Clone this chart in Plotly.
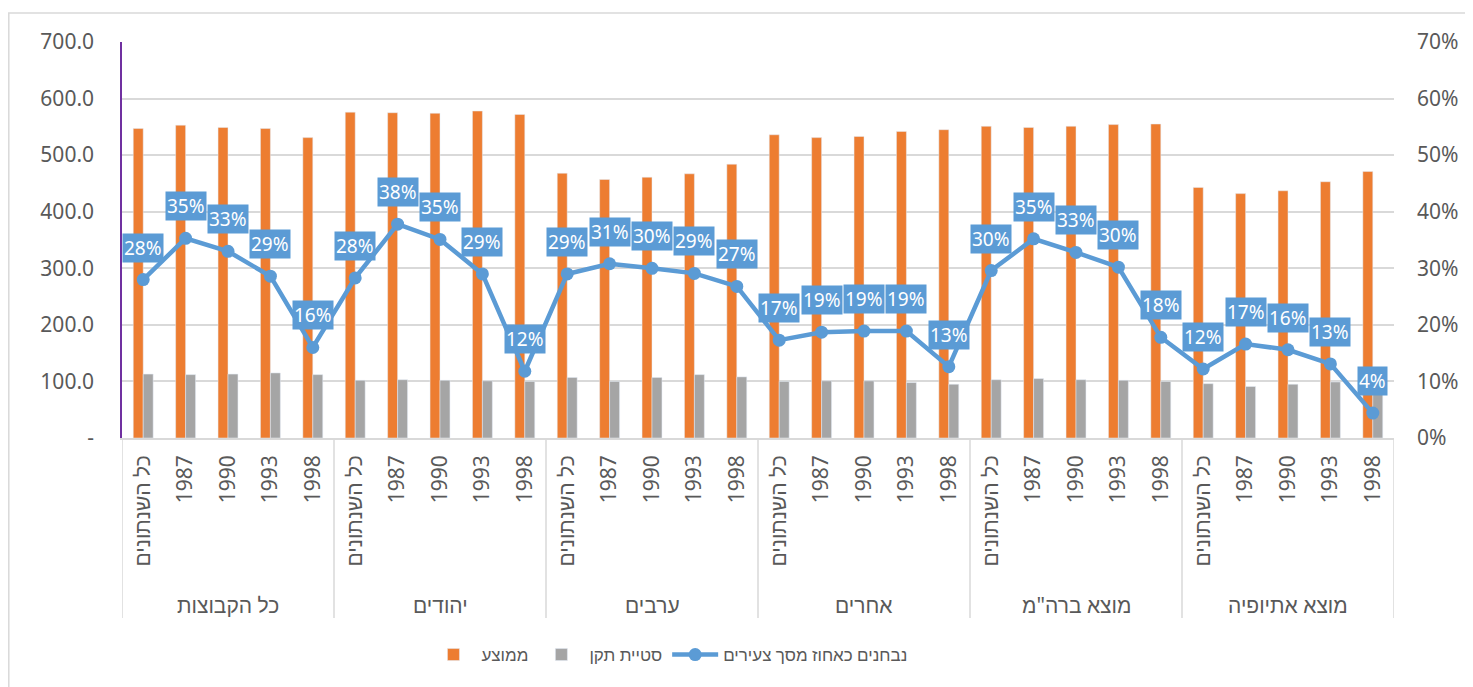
import plotly.graph_objects as go

# categories
groups = ["כל הקבוצות", "יהודים", "ערבים", "אחרים", 'מוצא ברה"מ', "מוצא אתיופיה"]
years = ["כל השנתונים", "1987", "1990", "1993", "1998"]

# series values (one per group x year)
mean_score = [547, 553, 549, 547, 531,
              576, 575, 574, 578, 572,
              468, 457, 461, 467, 484,
              536, 531, 533, 542, 545,
              551, 549, 551, 554, 555,
              443, 432, 437, 453, 471]
std_dev = [113, 112, 113, 115, 112,
           102, 103, 102, 101, 100,
           107, 100, 107, 112, 108,
           100, 101, 101, 98, 95,
           103, 105, 103, 102, 100,
           96, 91, 95, 99, 88]
pct_tested = [0.280, 0.353, 0.330, 0.286, 0.160,
              0.283, 0.378, 0.351, 0.290, 0.118,
              0.290, 0.308, 0.300, 0.291, 0.268,
              0.173, 0.187, 0.189, 0.189, 0.126,
              0.296, 0.352, 0.328, 0.302, 0.178,
              0.122, 0.166, 0.156, 0.131, 0.044]

left_ticks = [0, 100, 200, 300, 400, 500, 600, 700]
left_ticktext = ["-"] + [f"{v:.1f}" for v in left_ticks[1:]]

x_inner = [y for _ in groups for y in years]
x_pos = list(range(len(x_inner)))
n_years = len(years)

TEXT = "#595959"
GRID = "#D9D9D9"
FONT = "Noto Sans, Liberation Sans, DejaVu Sans, sans-serif"

fig = go.Figure()
fig.add_trace(go.Bar(x=x_pos, y=mean_score, name="ממוצע", marker_color="#ED7D31"))
fig.add_trace(go.Bar(x=x_pos, y=std_dev, name="סטיית תקן", marker_color="#A5A5A5"))
fig.add_trace(go.Scatter(x=x_pos, y=pct_tested, name="נבחנים כאחוז מסך צעירים", yaxis="y2",
                         mode="lines+markers", line=dict(color="#5B9BD5", width=4.5),
                         marker=dict(size=13, color="#5B9BD5")))

# boxed data labels for the line
for i, p in zip(x_pos, pct_tested):
    fig.add_annotation(x=i, y=p, xref="x", yref="y2", text=f"{round(p * 100)}%",
                       showarrow=False, yshift=32, bgcolor="#5B9BD5",
                       font=dict(color="white", size=19, family=FONT), borderpad=1)

# outer category level: group names and divider lines
for gi, g in enumerate(groups):
    fig.add_annotation(x=gi * n_years + (n_years - 1) / 2, y=-0.422, xref="x", yref="paper",
                       text=g, showarrow=False, yanchor="middle",
                       font=dict(size=21, color=TEXT, family=FONT))
for gi in range(len(groups) + 1):
    fig.add_shape(type="line", xref="x", yref="paper", x0=gi * n_years - 0.5,
                  x1=gi * n_years - 0.5, y0=0, y1=-0.4545, line=dict(color=GRID, width=1.5))

# chart area frame
fig.add_shape(type="rect", xref="paper", yref="paper", x0=-0.089, x1=1.07, y0=-0.7, y1=1.073,
              line=dict(color=GRID, width=1.5), fillcolor="rgba(0,0,0,0)", layer="below")

# page body adds an 8px margin, so the figure is 8px smaller than the window
fig.update_layout(
    width=1465, height=679,
    margin=dict(l=114, r=79, t=34, b=249, autoexpand=False),
    plot_bgcolor="white", paper_bgcolor="white",
    barmode="group", bargap=0.53, bargroupgap=0,
    font=dict(family=FONT, size=19, color=TEXT),
    showlegend=True,
    legend=dict(orientation="h", x=0.43, xanchor="center", y=-0.548, yanchor="middle",
                font=dict(size=17, color=TEXT), itemwidth=46),
    xaxis=dict(range=[-0.5, len(x_pos) - 0.5], tickmode="array", tickvals=x_pos,
               ticktext=x_inner, automargin=False, tickangle=-90,
               showline=True, linecolor=GRID, linewidth=1.5, zeroline=False,
               tickfont=dict(size=21, color=TEXT), showgrid=False, ticklabelstandoff=7),
    yaxis=dict(range=[0, 700], tickvals=left_ticks, ticktext=left_ticktext, automargin=False,
               showgrid=True, gridcolor=GRID, gridwidth=1.5, zeroline=False,
               showline=True, linecolor="#7030A0", linewidth=1.5,
               tickfont=dict(size=21, color=TEXT), ticklabelstandoff=22),
    yaxis2=dict(range=[0, 0.7], overlaying="y", side="right", tickformat=".0%", dtick=0.1,
                automargin=False, showgrid=False, zeroline=False,
                tickfont=dict(size=21, color=TEXT), ticklabelstandoff=22),
)

fig.write_html("out.html")
